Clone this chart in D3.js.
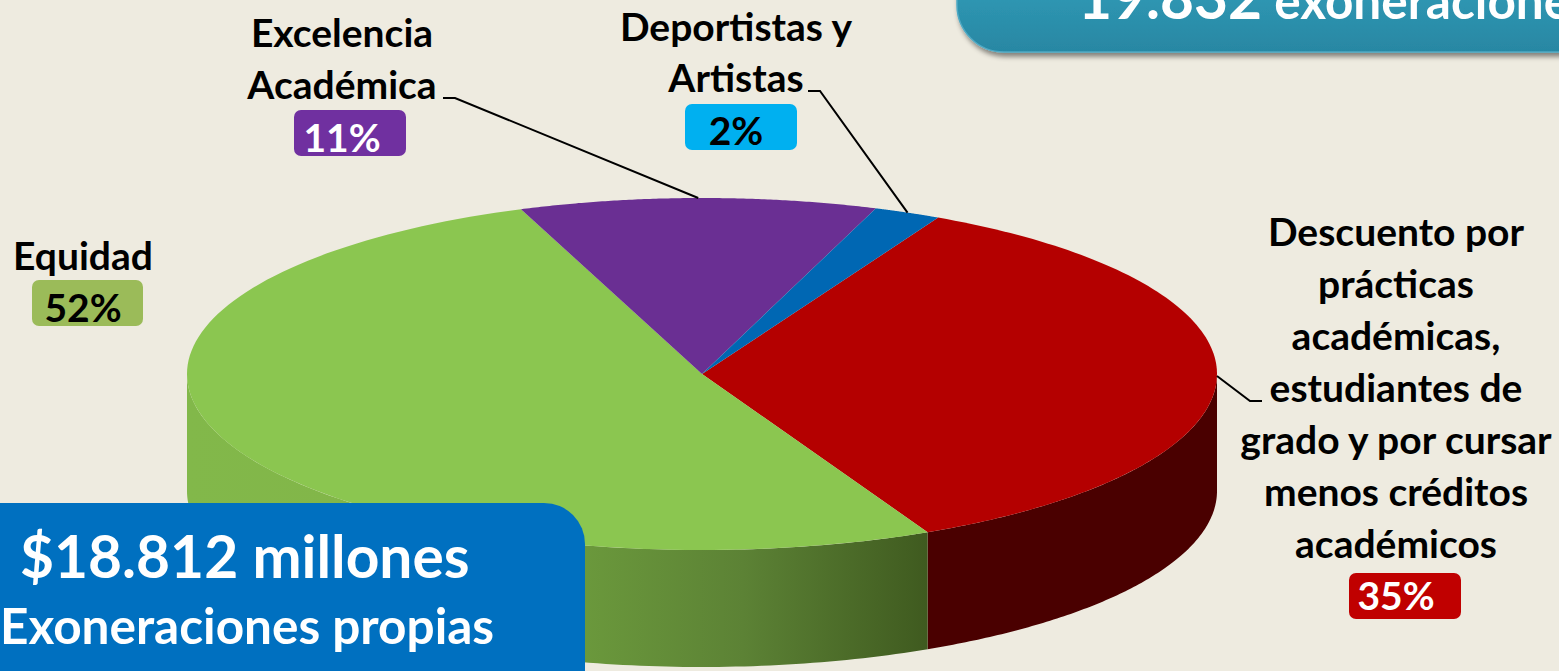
<!DOCTYPE html>
<html>
<head>
<meta charset="utf-8">
<script src="https://cdn.jsdelivr.net/npm/d3@7"></script>
<style>
  html, body { margin: 0; padding: 0; background: #eeebe0; overflow: hidden; }
  text { font-family: Lato, "Open Sans", sans-serif; font-weight: 700; }
</style>
</head>
<body>
<script>
// data, clockwise from the red slice. slice sizes, labels are the rounded ones
const names = ["Descuento", "Equidad", "Excelencia", "Deportistas"];
const values = [35.2, 51.5, 11.2, 2.1];
const pctLabels = ["35%", "52%", "11%", "2%"];
const labelLines = [
  ["Descuento por", "prácticas", "académicas,", "estudiantes de", "grado y por cursar", "menos créditos", "académicos"],
  ["Equidad"],
  ["Excelencia", "Académica"],
  ["Deportistas y", "Artistas"]
];
const topColors = ["#b40000", "#8bc650", "#6a2f93", "#0067b3"];
const badgeColors = ["#c00000", "#9bbb59", "#7030a0", "#00b0f0"];
const badgeText = ["#ffffff", "#000000", "#ffffff", "#000000"];

const WIDTH = 1559;
const HEIGHT = 671;
const DEPTH = 117;
const START = 27.3 * Math.PI / 180;

// label layout: x centre, first baseline, line height, badge, percent baseline
const layout = [
  { x: 1396, y: 246, lh: 52, bx: 1349, by: 573, bw: 112, bh: 46, ty: 610 },
  { x: 83, y: 270, lh: 52, bx: 32, by: 280, bw: 111, bh: 46, ty: 322 },
  { x: 342, y: 47, lh: 52, bx: 294, by: 110, bw: 112, bh: 46, ty: 152 },
  { x: 736, y: 41, lh: 51, bx: 685, by: 104, bw: 112, bh: 46, ty: 145 }
];
const leaders = [
  { from: [1262, 401], elbow: [1250, 401] },
  null,
  { from: [443, 98], elbow: [455, 98] },
  { from: [808, 91], elbow: [820, 91] }
];

const svg = d3.select("body").append("svg")
  .attr("width", WIDTH)
  .attr("height", HEIGHT)
  .style("display", "block");

const defs = svg.append("defs");

const sx = d3.scaleLinear().domain([-1, 1]).range([187, 1217]);
const sy = d3.scaleLinear().domain([-1, 1]).range([198, 550]);
const px = a => sx(Math.sin(a));
const py = a => sy(-Math.cos(a));

const pie = d3.pie().sort(null).startAngle(START).endAngle(START + 2 * Math.PI);
const arcs = pie(values);

function rimPoints(a0, a1) {
  return d3.range(0, 121).map(i => a0 + (a1 - a0) * i / 120);
}
const line = d3.line();

// side wall gradients
const greenSide = defs.append("linearGradient")
  .attr("id", "greenSide")
  .attr("gradientUnits", "userSpaceOnUse")
  .attr("x1", 187).attr("x2", 929).attr("y1", 0).attr("y2", 0);
[[0, "#82b84a"], [0.2, "#82b649"], [0.5, "#6d9c3d"], [0.75, "#5c8235"], [1, "#3f5a1f"]].forEach(s => {
  greenSide.append("stop").attr("offset", s[0]).attr("stop-color", s[1]);
});
const sideColors = ["#4a0000", "url(#greenSide)"];

// side wall: only the front half of the rim shows
arcs.forEach((d, i) => {
  const a0 = Math.max(d.startAngle, Math.PI / 2);
  const a1 = Math.min(d.endAngle, 3 * Math.PI / 2);
  if (a1 <= a0) return;
  const top = rimPoints(a0, a1).map(a => [px(a), py(a)]);
  const bottom = top.slice().reverse().map(p => [p[0], p[1] + DEPTH]);
  svg.append("path")
    .attr("d", line(top.concat(bottom)) + "Z")
    .attr("fill", sideColors[i] || topColors[i]);
});

// top face
arcs.forEach((d, i) => {
  const rim = rimPoints(d.startAngle, d.endAngle).map(a => [px(a), py(a)]);
  svg.append("path")
    .attr("d", line([[sx(0), sy(0)]].concat(rim)) + "Z")
    .attr("fill", topColors[i]);
});

// leader lines end on the rim at the middle of each slice
arcs.forEach((d, i) => {
  const l = leaders[i];
  if (!l) return;
  const mid = (d.startAngle + d.endAngle) / 2;
  svg.append("path")
    .attr("d", line([l.from, l.elbow, [px(mid), py(mid)]]))
    .attr("fill", "none")
    .attr("stroke", "#000")
    .attr("stroke-width", 2);
});

// labels and percent badges
names.forEach((n, i) => {
  const l = layout[i];
  const g = svg.append("g").attr("class", "label").attr("data-name", n);
  g.selectAll("text.line").data(labelLines[i]).enter().append("text")
    .attr("class", "line")
    .attr("x", l.x)
    .attr("y", (d, j) => l.y + j * l.lh)
    .attr("text-anchor", "middle")
    .attr("font-size", 39)
    .attr("fill", "#000")
    .text(d => d);
  g.append("rect")
    .attr("x", l.bx).attr("y", l.by)
    .attr("width", l.bw).attr("height", l.bh)
    .attr("rx", 7)
    .attr("fill", badgeColors[i]);
  g.append("text")
    .attr("x", l.x)
    .attr("y", l.ty)
    .attr("text-anchor", "middle")
    .attr("font-size", 39)
    .attr("fill", badgeText[i])
    .text(pctLabels[i]);
});

// blue box bottom left
svg.append("path")
  .attr("d", "M0,503H544A41,41 0 0 1 585,544V671H0Z")
  .attr("fill", "#0070c0");
svg.append("text")
  .attr("x", 20).attr("y", 578)
  .attr("font-size", 58.7).attr("fill", "#fff")
  .text("$18.812 millones");
svg.append("text")
  .attr("x", 0).attr("y", 644)
  .attr("font-size", 49.5).attr("fill", "#fff")
  .text("Exoneraciones propias");

// teal box top right
const teal = defs.append("linearGradient")
  .attr("id", "teal").attr("x1", 0).attr("x2", 0).attr("y1", 0).attr("y2", 1);
teal.append("stop").attr("offset", 0).attr("stop-color", "#2f98b4");
teal.append("stop").attr("offset", 1).attr("stop-color", "#2887a3");
const blur = defs.append("filter").attr("id", "shadow")
  .attr("x", "-5%").attr("y", "-5%").attr("width", "110%").attr("height", "130%");
blur.append("feDropShadow")
  .attr("dx", 2).attr("dy", 4).attr("stdDeviation", 2.5)
  .attr("flood-color", "#000").attr("flood-opacity", 0.45);
svg.append("path")
  .attr("d", "M957,-10V5A47,47 0 0 0 1004,52H1570V-10Z")
  .attr("fill", "url(#teal)")
  .attr("stroke", "#4ea9c4")
  .attr("stroke-width", 1.5)
  .attr("filter", "url(#shadow)");
svg.append("text")
  .attr("x", 1078).attr("y", 19)
  .attr("fill", "#fff")
  .call(t => {
    t.append("tspan").attr("font-size", 58.7).text("19.832");
    t.append("tspan").attr("font-size", 49.5).text(" exoneraciones");
  });
</script>
</body>
</html>
